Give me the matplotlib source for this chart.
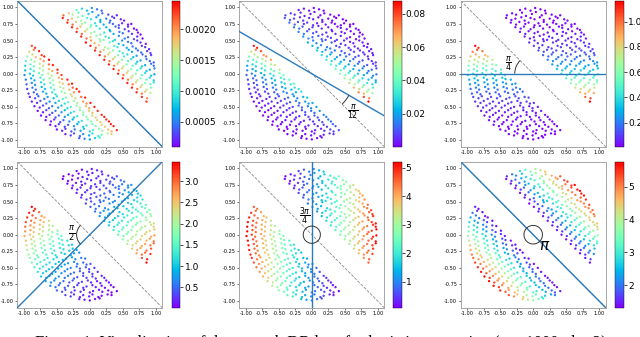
import numpy as np
import matplotlib
matplotlib.use('Agg')
import matplotlib.pyplot as plt
from matplotlib.patches import Arc

plt.rcParams['axes.unicode_minus'] = False

# sample points (x, y in hundredths)
points = [
    (-20, 96), (-12, 98), (-4, 95), (3, 99), (11, 97), (18, 95),
    (-40, 88), (-32, 91), (-26, 89), (-17, 92), (-11, 87), (-2, 90), (4, 93), (13, 88), (19, 91), (28, 89), (34, 86), (41, 88),
    (-41, 84), (-33, 81), (-27, 83), (-18, 85), (-13, 80), (-4, 84), (2, 82), (10, 85), (16, 81), (25, 83), (31, 80), (37, 84), (47, 82), (52, 80),
    (-34, 77), (-26, 74), (-21, 78), (-12, 75), (-7, 77), (2, 73), (8, 76), (16, 78), (21, 74), (30, 77), (35, 75), (44, 73), (49, 76), (58, 74), (63, 75),
    (-27, 70), (-19, 68), (-14, 71), (-4, 67), (1, 70), (10, 72), (15, 68), (25, 70), (30, 66), (39, 71), (44, 69), (53, 67), (58, 71), (67, 68), (71, 66),
    (-20, 63), (-12, 60), (-7, 64), (2, 61), (7, 63), (16, 59), (22, 62), (31, 64), (36, 60), (45, 63), (50, 61), (59, 64), (64, 60), (73, 62), (77, 59),
    (-13, 56), (-5, 53), (1, 55), (10, 57), (15, 52), (24, 56), (29, 54), (38, 51), (44, 57), (53, 53), (58, 55), (67, 52), (72, 56), (80, 53),
    (-6, 47), (2, 50), (7, 46), (16, 49), (21, 51), (30, 47), (35, 49), (44, 45), (49, 50), (58, 48), (63, 46), (72, 50), (77, 47), (85, 45),
    (1, 42), (9, 39), (14, 43), (23, 40), (28, 38), (37, 42), (42, 40), (51, 43), (56, 39), (65, 41), (70, 38), (79, 42), (84, 40), (90, 37),
    (-88, 42), (-83, 39),
    (8, 35), (16, 33), (21, 36), (30, 32), (35, 35), (45, 34), (50, 31), (59, 36), (64, 33), (73, 35), (78, 32), (87, 34), (92, 31),
    (-92, 33), (-85, 36), (-77, 34),
    (15, 28), (23, 26), (28, 29), (38, 25), (43, 28), (52, 26), (57, 29), (66, 25), (71, 27), (80, 29), (85, 26), (93, 28),
    (-95, 26), (-87, 29), (-82, 25), (-73, 28), (-69, 26),
    (22, 21), (30, 19), (35, 22), (44, 18), (49, 21), (58, 19), (63, 22), (72, 18), (77, 20), (86, 22), (91, 19), (97, 17),
    (-97, 19), (-89, 21), (-84, 18), (-75, 22), (-70, 19), (-62, 21),
    (29, 14), (37, 12), (42, 15), (51, 11), (56, 14), (65, 12), (70, 15), (79, 11), (84, 13), (93, 15), (97, 12),
    (-98, 12), (-90, 14), (-85, 11), (-76, 15), (-71, 12), (-62, 14), (-56, 13),
    (36, 7), (44, 5), (49, 8), (58, 4), (63, 7), (72, 5), (77, 8), (86, 4), (91, 6), (98, 8),
    (-98, 5), (-90, 7), (-85, 4), (-76, 8), (-71, 5), (-62, 7), (-57, 4), (-49, 6),
    (43, 0), (51, -2), (56, 1), (65, -3), (70, 0), (79, -2), (84, 1), (93, -3), (98, -1),
    (-99, -2), (-91, 0), (-86, -3), (-77, 1), (-72, -2), (-63, 0), (-58, -3), (-49, 1), (-43, -2),
    (50, -7), (58, -9), (63, -6), (72, -10), (77, -7), (86, -9), (91, -6), (97, -10),
    (-97, -9), (-89, -7), (-84, -10), (-75, -6), (-70, -9), (-61, -7), (-56, -10), (-47, -6), (-42, -8), (-34, -9),
    (57, -14), (65, -16), (70, -13), (79, -17), (84, -14), (92, -16), (97, -13),
    (-96, -16), (-88, -14), (-83, -17), (-74, -13), (-69, -16), (-60, -14), (-55, -17), (-46, -13), (-41, -15), (-32, -16), (-27, -15),
    (64, -21), (72, -23), (77, -20), (86, -24), (93, -21),
    (-95, -23), (-87, -21), (-82, -24), (-73, -20), (-68, -23), (-59, -21), (-54, -24), (-45, -20), (-40, -22), (-31, -24), (-26, -21), (-20, -23),
    (71, -28), (79, -30), (84, -27), (92, -29),
    (-93, -30), (-85, -28), (-80, -31), (-71, -27), (-66, -30), (-57, -28), (-52, -31), (-43, -27), (-38, -29), (-29, -31), (-24, -28), (-16, -27),
    (79, -35), (87, -37),
    (-91, -35), (-83, -37), (-78, -34), (-69, -38), (-64, -35), (-55, -37), (-50, -34), (-41, -38), (-36, -36), (-27, -34), (-22, -37), (-13, -35), (-7, -36),
    (86, -42),
    (-88, -42), (-80, -44), (-75, -41), (-66, -45), (-61, -42), (-52, -44), (-47, -41), (-38, -45), (-33, -43), (-24, -41), (-19, -44), (-10, -42), (-5, -45), (1, -44),
    (-84, -49), (-76, -51), (-71, -48), (-62, -52), (-57, -49), (-48, -51), (-43, -48), (-34, -52), (-29, -50), (-20, -48), (-15, -51), (-6, -49), (-1, -52), (7, -50),
    (-79, -56), (-71, -58), (-66, -55), (-57, -59), (-52, -56), (-43, -58), (-38, -55), (-29, -59), (-24, -57), (-15, -55), (-10, -58), (-1, -56), (4, -59), (12, -56),
    (-74, -63), (-66, -65), (-61, -62), (-52, -66), (-47, -63), (-38, -65), (-33, -62), (-24, -66), (-19, -64), (-10, -62), (-5, -65), (4, -63), (9, -66), (18, -62), (22, -65),
    (-67, -70), (-59, -72), (-54, -69), (-45, -73), (-40, -70), (-31, -72), (-26, -69), (-17, -73), (-12, -71), (-3, -69), (2, -72), (11, -70), (16, -73), (25, -69), (29, -72),
    (-60, -77), (-52, -79), (-47, -76), (-38, -80), (-33, -77), (-24, -79), (-19, -76), (-10, -80), (-5, -78), (4, -76), (9, -79), (18, -77), (23, -80), (32, -76), (36, -79),
    (-50, -84), (-42, -86), (-37, -83), (-28, -87), (-23, -84), (-14, -86), (-9, -83), (0, -87), (5, -85), (14, -83), (19, -86), (28, -84), (33, -87), (41, -85),
    (-37, -91), (-29, -93), (-24, -90), (-15, -94), (-10, -91), (-1, -93), (4, -90), (13, -94), (18, -92), (27, -90), (33, -91),
    (-16, -97), (-8, -98), (0, -99), (8, -97), (15, -96),
]

# rotation of the blue separator away from the true boundary (x + y = 0)
angles = [0, np.pi / 12, np.pi / 4, np.pi / 2, 3 * np.pi / 4, np.pi]
angle_labels = [None, r'$\frac{\pi}{12}$', r'$\frac{\pi}{4}$', r'$\frac{\pi}{2}$',
                r'$\frac{3\pi}{4}$', r'$\pi$']
sharpness = [3.0, 5.0, 4.3, 2.7, 2.3, 3.0]

# colour bar ranges and ticks
cbar_lo = [0.0001, 0.0, 0.01, 0.02, 0.1, 1.31]
cbar_hi = [0.00246, 0.088, 1.166, 3.455, 5.21, 5.76]
cbar_ticks = [
    [0.0005, 0.0010, 0.0015, 0.0020],
    [0.02, 0.04, 0.06, 0.08],
    [0.2, 0.4, 0.6, 0.8, 1.0],
    [0.5, 1.0, 1.5, 2.0, 2.5, 3.0],
    [1, 2, 3, 4, 5],
    [2, 3, 4, 5],
]

caption = 'Figure 1: Visualization of the smooth DR loss for logistic regression (n = 1000, d = 2)'

px = np.array([p[0] for p in points]) / 100
py = np.array([p[1] for p in points]) / 100
labels = np.sign(px + py)

# annotation layout: (radius, theta1, theta2, label x, label y, fontsize)
annot = [
    None,
    (0.65, -45, -30, 0.63, -0.57, 8),
    (0.28, 135, 180, -0.37, 0.16, 8),
    (0.20, 135, 225, -0.28, 0.00, 8.5),
    (0.13, 0, 360, -0.11, 0.28, 8),
    (0.14, 0, 360, 0.17, -0.17, 11),
]

W, H = 640, 337
fig = plt.figure(figsize=(W / 100, H / 100), dpi=100)

col_left = [17.3, 239.3, 460.7]
cb_left = [171.5, 392.5, 615.0]
row_top = [0.7, 161.7]
ax_w, ax_h, cb_w = 145.0, 146.0, 9.0

ticks = np.arange(-1, 1.01, 0.25)

for i, theta in enumerate(angles):
    r, c = divmod(i, 3)
    ax = fig.add_axes([col_left[c] / W, (H - row_top[r] - ax_h) / H, ax_w / W, ax_h / H])
    cax = fig.add_axes([cb_left[c] / W, (H - row_top[r] - ax_h) / H, cb_w / W, ax_h / H])

    phi = np.pi / 4 + theta
    margin = labels * (px * np.cos(phi) + py * np.sin(phi))
    loss = np.logaddexp(0, -sharpness[i] * margin)
    vals = cbar_lo[i] + (loss - loss.min()) / (loss.max() - loss.min()) * (cbar_hi[i] - cbar_lo[i])

    sc = ax.scatter(px, py, c=vals, cmap='rainbow', vmin=cbar_lo[i], vmax=cbar_hi[i],
                    s=2.8, linewidths=0, zorder=2)
    ax.axline((0, 0), (1, -1), color='#8a8a8a', ls='--', lw=0.6, zorder=1)
    d = phi + np.pi / 2
    ax.axline((0, 0), (np.cos(d), np.sin(d)), color='#2b7bba', lw=1.0, zorder=3)

    if annot[i] is not None:
        rad, t1, t2, lx, ly, fs = annot[i]
        ax.add_patch(Arc((0, 0), 2 * rad, 2 * rad, theta1=t1, theta2=t2,
                         color='#333333', lw=0.7, zorder=4))
        ax.text(lx, ly, angle_labels[i], fontsize=fs, ha='center', va='center', zorder=5)

    ax.set_xlim(-1.1, 1.1)
    ax.set_ylim(-1.1, 1.1)
    ax.set_xticks(ticks)
    ax.set_yticks(ticks)
    ax.set_xticklabels(['%.2f' % t for t in ticks])
    ax.set_yticklabels(['%.2f' % t for t in ticks])
    ax.tick_params(labelsize=3.6, length=1.5, width=0.4, pad=1)
    for s in ax.spines.values():
        s.set_color('#999999')
        s.set_linewidth(0.6)

    cb = fig.colorbar(sc, cax=cax, ticks=cbar_ticks[i])
    cb.outline.set_linewidth(0.3)
    cb.ax.tick_params(labelsize=6.5, length=2, width=0.5, pad=1)

fig.text(0.502, (H - 335.2) / H, caption, ha='center', va='top',
         fontsize=12, family='Liberation Serif')

fig.savefig('out.png', dpi=100)
